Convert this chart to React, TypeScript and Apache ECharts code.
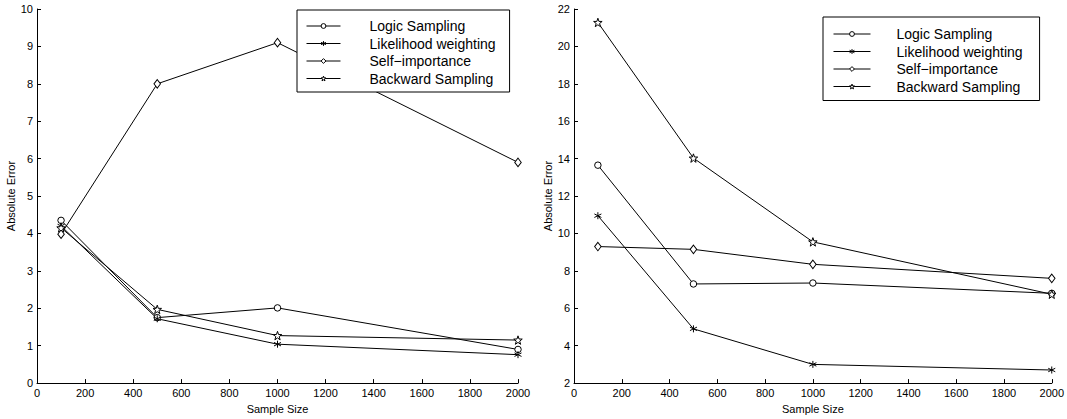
import React, { useEffect, useRef } from "react";
import * as echarts from "echarts";

const sampleSizes = [100, 500, 1000, 2000];
const seriesNames = ["Logic Sampling", "Likelihood weighting", "Self\u2212importance", "Backward Sampling"];

const leftLogic = [4.35, 1.75, 2.01, 0.9];
const leftLikelihood = [4.2, 1.72, 1.04, 0.76];
const leftSelf = [3.98, 8.0, 9.1, 5.9];
const leftBackward = [4.15, 1.97, 1.27, 1.15];

const rightLogic = [13.65, 7.3, 7.35, 6.8];
const rightLikelihood = [10.95, 4.9, 3.0, 2.7];
const rightSelf = [9.3, 9.15, 8.35, 7.6];
const rightBackward = [21.28, 14.03, 9.55, 6.75];

const xTicks = { min: 0, max: 2000, interval: 200 };
const leftYTicks = { min: 0, max: 10, interval: 1 };
const rightYTicks = { min: 2, max: 22, interval: 2 };

const FONT = "'Liberation Sans', Arial, Helvetica, sans-serif";

const CIRCLE = "path://M10,5A5,5,0,1,1,0,5A5,5,0,1,1,10,5Z";
const ASTERISK = "path://M5,0L5,10M0.67,2.5L9.33,7.5M0.67,7.5L9.33,2.5";
const DIAMOND = "path://M5,0L10,5L5,10L0,5Z";
const STAR =
  "path://M5,0L6.18,3.38L9.76,3.46L6.9,5.62L7.94,9.05L5,7L2.06,9.05L3.1,5.62L0.24,3.46L3.82,3.38Z";

const markerStyles = [
  { symbol: CIRCLE, symbolSize: 6.5 },
  { symbol: ASTERISK, symbolSize: 7 },
  { symbol: DIAMOND, symbolSize: [6.5, 8.5] },
  { symbol: STAR, symbolSize: 8.5 },
];

const markerItemStyle = { color: "#fff", borderColor: "#000", borderWidth: 1 };

function toPoints(values: number[]) {
  return sampleSizes.map((x, i) => [x, values[i]]);
}

function makeSeries(valuesList: number[][], axisIndex: number) {
  return valuesList.map((vals, i) => ({
    type: "line",
    name: seriesNames[i],
    xAxisIndex: axisIndex,
    yAxisIndex: axisIndex,
    data: toPoints(vals),
    symbol: markerStyles[i].symbol,
    symbolSize: markerStyles[i].symbolSize,
    itemStyle: markerItemStyle,
    lineStyle: { color: "#000", width: 1 },
    showAllSymbol: true,
    z: 3,
  }));
}

function xAxis(gridIndex: number) {
  return {
    type: "value",
    gridIndex,
    ...xTicks,
    name: "Sample Size",
    nameLocation: "middle",
    nameGap: 18,
    nameTextStyle: { color: "#000", fontSize: 11, fontFamily: FONT },
    axisLine: { show: true, lineStyle: { color: "#000", width: 1 } },
    axisTick: { show: true, inside: true, length: 4, lineStyle: { color: "#000" } },
    axisLabel: {
      color: "#000",
      fontSize: 11,
      fontFamily: FONT,
      margin: 4,
      formatter: (v: number) => String(v),
    },
    splitLine: { show: false },
  };
}

function yAxis(gridIndex: number, ticks: { min: number; max: number; interval: number }) {
  return {
    type: "value",
    gridIndex,
    ...ticks,
    name: "Absolute Error",
    nameLocation: "middle",
    nameRotate: 90,
    nameGap: 13,
    nameTextStyle: { color: "#000", fontSize: 11, fontFamily: FONT },
    axisLine: { show: true, lineStyle: { color: "#000", width: 1 } },
    axisTick: { show: true, inside: true, length: 4, lineStyle: { color: "#000" } },
    axisLabel: {
      color: "#000",
      fontSize: 11,
      fontFamily: FONT,
      margin: 4,
      formatter: (v: number) => String(v),
    },
    splitLine: { show: false },
  };
}

function legend(left: number, top: number, itemWidth: number, textPad: number, padding: number[]) {
  return {
    data: seriesNames,
    left,
    top,
    orient: "vertical",
    selectedMode: false,
    backgroundColor: "#fff",
    borderColor: "#000",
    borderWidth: 1,
    padding,
    itemWidth,
    itemHeight: 6,
    itemGap: 3.5,
    itemStyle: { color: "#fff", borderColor: "#000", borderWidth: 1 },
    lineStyle: { color: "#000", width: 1 },
    textStyle: {
      color: "#000",
      fontSize: 14,
      lineHeight: 14,
      fontFamily: FONT,
      padding: [0, 0, 0, textPad],
    },
    z: 10,
  };
}

export default function App() {
  const ref = useRef<HTMLDivElement>(null);
  useEffect(() => {
    if (!ref.current) return;
    const chart = echarts.init(ref.current, undefined, { renderer: "svg" });
    chart.setOption({
      animation: false,
      backgroundColor: "#fff",
      textStyle: { fontFamily: FONT },
      grid: [
        { left: 37, right: 549, top: 9, bottom: 31 },
        { left: 574, right: 12, top: 9, bottom: 31 },
      ],
      xAxis: [xAxis(0), xAxis(1)],
      yAxis: [yAxis(0, leftYTicks), yAxis(1, rightYTicks)],
      legend: [
        legend(297, 10, 34, 24, [9, 14, 6.5, 9]),
        legend(823, 17, 37, 21, [10, 17, 7, 10]),
      ],
      series: [
        ...makeSeries([leftLogic, leftLikelihood, leftSelf, leftBackward], 0),
        ...makeSeries([rightLogic, rightLikelihood, rightSelf, rightBackward], 1),
      ],
    });
    return () => chart.dispose();
  }, []);
  return (
    <div
      ref={ref}
      style={{ position: "fixed", left: 0, top: 0, width: 1067, height: 419, background: "#fff" }}
    />
  );
}
